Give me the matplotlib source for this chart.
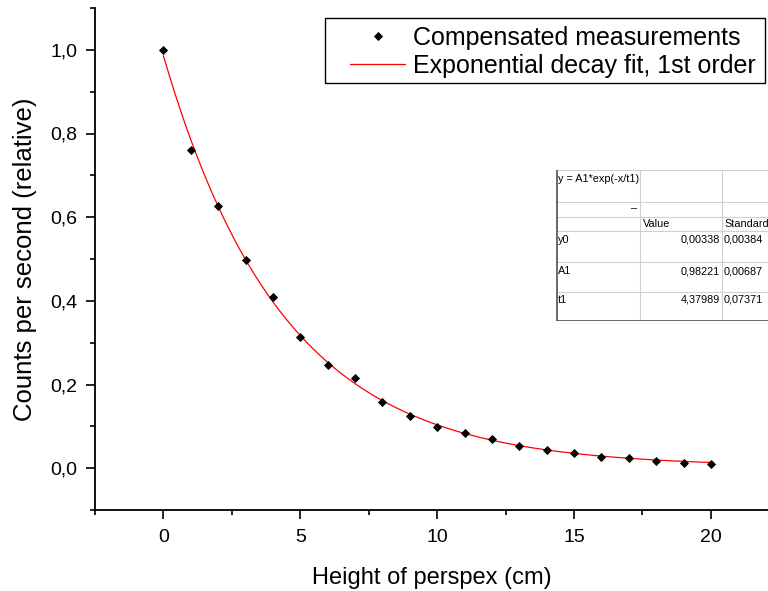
import numpy as np
import matplotlib
matplotlib.use("Agg")
import matplotlib.pyplot as plt
from matplotlib.ticker import MultipleLocator, FuncFormatter

plt.rcParams['font.family'] = ['Liberation Sans', 'DejaVu Sans']

heights = [0, 1, 2, 3, 4, 5, 6, 7, 8, 9, 10, 11, 12, 13, 14, 15, 16, 17, 18, 19, 20]
counts = [1.000, 0.761, 0.627, 0.498, 0.409, 0.313, 0.246, 0.215, 0.158, 0.124,
          0.098, 0.084, 0.069, 0.053, 0.043, 0.036, 0.026, 0.024, 0.017, 0.012, 0.010]

fit_y0 = 0.00338
fit_A1 = 0.98221
fit_t1 = 4.37989

param_names = ["y0", "A1", "t1"]
param_values = ["0,00338", "0,98221", "4,37989"]
param_errors = ["0,00384", "0,00687", "0,07371"]

W, H = 768, 591
fig = plt.figure(figsize=(W / 100, H / 100), dpi=100)
ax = fig.add_axes([95 / W, (H - 510) / H, (W - 95) / W + 0.002, (510 - 8) / H])

xf = np.linspace(min(heights), max(heights), 400)
yf = fit_y0 + fit_A1 * np.exp(-xf / fit_t1)
ax.plot(heights, counts, linestyle='none', marker='D', markersize=4.3, markeredgewidth=0.6,
        color='black', label='Compensated measurements', zorder=3)
ax.plot(xf, yf, color='red', linewidth=0.9, label='Exponential decay fit, 1st order', zorder=2)

ax.set_xlim(-2.5, (768 - 163) / 27.3 - 0.02)
ax.set_ylim(-0.1, 1.1)
for s in ['top', 'right']:
    ax.spines[s].set_visible(False)
for s in ['left', 'bottom']:
    ax.spines[s].set_linewidth(1.3)
ax.xaxis.set_major_locator(MultipleLocator(5))
ax.xaxis.set_minor_locator(MultipleLocator(2.5))
ax.yaxis.set_major_locator(MultipleLocator(0.2))
ax.yaxis.set_minor_locator(MultipleLocator(0.1))
ax.yaxis.set_major_formatter(FuncFormatter(lambda v, p: f"{v:.1f}".replace('.', ',').replace('-0,0', '0,0')))
ax.xaxis.set_major_formatter(FuncFormatter(lambda v, p: f"{v:g}"))
ax.tick_params(which='major', direction='out', length=6.5, width=1.2, labelsize=14)
ax.tick_params(axis='x', which='major', pad=7)
ax.tick_params(axis='y', which='major', pad=6)
ax.tick_params(which='minor', direction='out', length=3.5, width=1.2)
ax.set_xlabel('Height of perspex (cm)', fontsize=17, labelpad=15)
ax.set_ylabel('Counts per second (relative)', fontsize=18.5, labelpad=10)

# Legend (frameless) with a box drawn in figure pixels
leg = ax.legend(loc='upper left', bbox_to_anchor=(350 / W, (H - 26) / H),
                bbox_transform=fig.transFigure, fontsize=18, frameon=False,
                borderpad=0, labelspacing=0.15, handlelength=2.2,
                handletextpad=0.33, borderaxespad=0, markerscale=1.0)
fig.add_artist(plt.Rectangle((325 / W, (H - 83) / H), (765 - 325) / W, (83 - 18) / H,
                             transform=fig.transFigure, facecolor='none',
                             edgecolor='black', linewidth=1.0, zorder=5))

# Inset parameter table
tx0, tx1, ty0, ty1 = 556, 768, 170, 321
tax = fig.add_axes([tx0 / W, (H - ty1) / H, (tx1 - tx0) / W, (ty1 - ty0) / H])
tax.set_xlim(tx0, tx1)
tax.set_ylim(ty1, ty0)
tax.axis('off')
tax.add_patch(plt.Rectangle((tx0, ty0), tx1 - tx0, ty1 - ty0, facecolor='white', edgecolor='none'))
grid_c = '#d0d0d0'
for yy in [170, 202, 217, 231, 262, 292]:
    tax.plot([tx0, tx1], [yy, yy], color=grid_c, lw=0.8)
for xx in [640, 722]:
    tax.plot([xx, xx], [ty0, ty1], color=grid_c, lw=0.8)
tax.plot([tx0 + 0.5, tx0 + 0.5], [ty0, ty1], color='#505050', lw=1.2)
tax.plot([tx0, tx1], [ty1 - 0.5, ty1 - 0.5], color='#505050', lw=1.2)
fs = 7.8
tax.text(558, 179, 'y = A1*exp(-x/t1)', fontsize=fs, va='center', ha='left')
tax.text(637, 208, '–', fontsize=fs, va='center', ha='right')
tax.text(643, 224, 'Value', fontsize=fs, va='center', ha='left')
tax.text(724, 224, 'Standard', fontsize=fs, va='center', ha='left')
for i, (n, v, e) in enumerate(zip(param_names, param_values, param_errors)):
    yc = [240, 271, 300][i]
    tax.text(558, yc, n, fontsize=fs, va='center', ha='left')
    tax.text(720, yc, v, fontsize=fs, va='center', ha='right')
    tax.text(724, yc, e, fontsize=fs, va='center', ha='left')

fig.savefig('out.png', dpi=100)
